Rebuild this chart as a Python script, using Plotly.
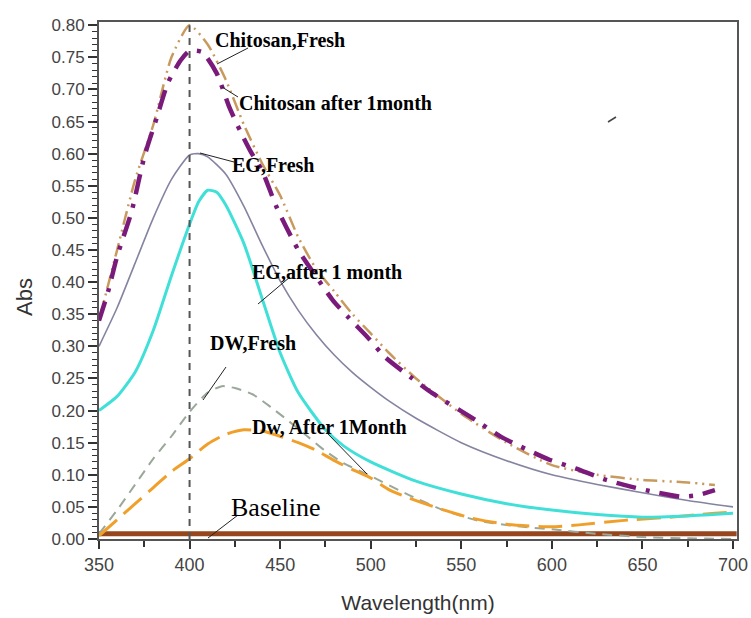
import plotly.graph_objects as go

# ---- data ----
chit_fresh_x = [350, 360, 370, 380, 390, 400, 410, 420, 430, 440, 450, 460, 470, 480, 490, 500, 510, 525, 550, 575, 600, 625, 650, 675, 690]
chit_fresh_y = [0.34, 0.45, 0.56, 0.645, 0.75, 0.80, 0.77, 0.715, 0.645, 0.585, 0.535, 0.47, 0.42, 0.385, 0.35, 0.32, 0.29, 0.25, 0.195, 0.15, 0.115, 0.10, 0.092, 0.088, 0.084]

chit_month_x = [350, 355, 360, 368, 375, 382, 388, 395, 400, 407, 415, 422, 428, 434, 440, 448, 460, 470, 479, 488, 498, 508, 522, 534, 558, 572, 599, 613, 629, 643, 657, 671, 680, 690]
chit_month_y = [0.34, 0.385, 0.44, 0.51, 0.595, 0.657, 0.71, 0.745, 0.76, 0.758, 0.725, 0.672, 0.635, 0.602, 0.574, 0.517, 0.45, 0.408, 0.372, 0.344, 0.315, 0.283, 0.252, 0.227, 0.185, 0.159, 0.123, 0.11, 0.093, 0.082, 0.073, 0.066, 0.068, 0.076]

eg_fresh_x = [350, 360, 370, 380, 390, 400, 405, 410, 420, 430, 440, 450, 460, 470, 480, 490, 500, 510, 525, 550, 575, 600, 625, 650, 675, 700]
eg_fresh_y = [0.30, 0.36, 0.43, 0.50, 0.56, 0.598, 0.60, 0.595, 0.568, 0.518, 0.458, 0.402, 0.356, 0.318, 0.286, 0.259, 0.236, 0.215, 0.188, 0.15, 0.122, 0.10, 0.085, 0.072, 0.06, 0.05]

eg_month_x = [350, 360, 370, 380, 390, 400, 405, 410, 415, 420, 430, 440, 450, 460, 475, 485, 500, 525, 550, 575, 600, 625, 650, 675, 700]
eg_month_y = [0.20, 0.222, 0.26, 0.325, 0.41, 0.49, 0.525, 0.543, 0.54, 0.52, 0.46, 0.375, 0.29, 0.228, 0.17, 0.145, 0.12, 0.09, 0.07, 0.055, 0.045, 0.038, 0.034, 0.036, 0.04]

dw_fresh_x = [350, 360, 370, 380, 390, 400, 410, 418, 425, 435, 445, 455, 465, 475, 485, 500, 520, 540, 560, 580, 600, 625, 650, 675, 700]
dw_fresh_y = [0.008, 0.045, 0.085, 0.125, 0.16, 0.198, 0.228, 0.238, 0.235, 0.225, 0.205, 0.183, 0.16, 0.137, 0.118, 0.098, 0.07, 0.045, 0.028, 0.02, 0.015, 0.008, 0.003, 0.001, 0.0]

dw_month_x = [350, 360, 370, 380, 390, 400, 410, 420, 430, 440, 450, 460, 470, 480, 490, 500, 510, 520, 535, 555, 575, 600, 615, 640, 665, 690, 700]
dw_month_y = [0.005, 0.03, 0.055, 0.08, 0.105, 0.125, 0.148, 0.163, 0.17, 0.168, 0.16, 0.15, 0.138, 0.122, 0.108, 0.095, 0.077, 0.065, 0.05, 0.033, 0.023, 0.019, 0.022, 0.029, 0.034, 0.04, 0.042]

baseline_x = [350, 702]
baseline_y = [0.008, 0.008]

peak_x = [400, 400]
peak_y = [0.0, 0.80]

x_ticks = [350, 400, 450, 500, 550, 600, 650, 700]
y_ticks = [round(0.05 * i, 2) for i in range(17)]

X_RANGE = [350, 702.2]
Y_RANGE = [0, 0.805]

fig = go.Figure()

def add(x, y, color, width, dash="solid"):
    fig.add_trace(go.Scatter(x=x, y=y, mode="lines", showlegend=False,
                             line=dict(color=color, width=width, dash=dash, shape="spline", smoothing=0.6),
                             hoverinfo="skip"))

add(baseline_x, baseline_y, "#96461c", 5)
add(dw_fresh_x, dw_fresh_y, "#9aa89a", 2, "10px,7px")
add(dw_month_x, dw_month_y, "#f0a02a", 3, "24px,9px")
add(eg_fresh_x, eg_fresh_y, "#8484a0", 1.6)
add(eg_month_x, eg_month_y, "#40e0d8", 3)
add(chit_fresh_x, chit_fresh_y, "#c89a5e", 2.5, "14px,5px,2px,5px,2px,5px")
add(chit_month_x, chit_month_y, "#7a1a7a", 4.5, "20px,10px,4px,10px")
fig.add_trace(go.Scatter(x=peak_x, y=peak_y, mode="lines", showlegend=False,
                         line=dict(color="#555555", width=2, dash="7px,6px"), hoverinfo="skip"))

W, H = 751, 618
L, R, T, B = 99, 737, 22, 539

def px2paper(px, py):
    return (px - L) / (R - L), (B - py) / (B - T)

# ---- labels with leader lines ----
labels = [
    ("Chitosan,Fresh", 213, 40, 20, "bold", (248, 48), (217, 64)),
    ("Chitosan after 1month", 237, 103, 20, "bold", (238, 97), (222, 87)),
    ("EG,Fresh", 230, 165, 20, "bold", (234, 162), (200, 153)),
    ("EG,after 1 month", 250, 272, 20, "bold", (290, 277), (258, 304)),
    ("DW,Fresh", 208, 343, 20, "bold", (226, 367), (203, 400)),
    ("Dw, After 1Month", 250, 427, 20, "bold", (327, 433), (367, 474)),
    ("Baseline", 229, 507, 26, "normal", (238, 515), (208, 538)),
]

for text, lx, ly, size, weight, p0, p1 in labels:
    ax_, ay_ = px2paper(lx, ly)
    fig.add_annotation(xref="paper", yref="paper", x=ax_, y=ay_, xanchor="left", yanchor="middle",
                       text=text, showarrow=False,
                       font=dict(family="Liberation Serif", size=size, color="#000000", weight=weight))
    x0, y0 = px2paper(*p0)
    x1, y1 = px2paper(*p1)
    fig.add_shape(type="line", xref="paper", yref="paper", x0=x0, y0=y0, x1=x1, y1=y1,
                  line=dict(color="#222222", width=1))

# small stray mark in the reference
sx0, sy0 = px2paper(608, 122)
sx1, sy1 = px2paper(616, 117)
fig.add_shape(type="line", xref="paper", yref="paper", x0=sx0, y0=sy0, x1=sx1, y1=sy1,
              line=dict(color="#444444", width=1.5))

# y-axis title placed as text
tx, ty = px2paper(24, 297)
fig.add_annotation(xref="paper", yref="paper", x=tx, y=ty, xanchor="center", yanchor="middle",
                   text="Abs", textangle=-90, showarrow=False,
                   font=dict(family="Liberation Sans", size=22, color="#333333"))

fig.update_layout(
    width=W, height=H, autosize=False,
    margin=dict(l=L, r=W - R, t=T, b=H - B, autoexpand=False),
    paper_bgcolor="white", plot_bgcolor="white",
    font=dict(family="Liberation Sans", color="#444444"),
)
fig.update_xaxes(range=X_RANGE, tickvals=x_ticks, ticks="outside", ticklen=8,
                 tickwidth=2, tickcolor="#333", mirror=True,
                 showline=True, linecolor="#555", linewidth=2, showgrid=False, zeroline=False, automargin=False,
                 ticklabeloverflow="allow",
                 tickfont=dict(size=18, color="#444"),
                 minor=dict(ticks="outside", ticklen=6, tickwidth=1.5, tickcolor="#333", dtick=25),
                 title=dict(text="Wavelength(nm)", font=dict(size=21, color="#333"), standoff=22))
fig.update_yaxes(range=Y_RANGE, tickvals=y_ticks, tickformat=".2f", ticks="outside",
                 ticklen=9, tickwidth=2, mirror=True,
                 tickcolor="#333", showline=True, linecolor="#555", linewidth=2, showgrid=False, zeroline=False,
                 automargin=False,
                 tickfont=dict(size=17, color="#444"),
                 minor=dict(ticks="outside", ticklen=5, tickwidth=1.2, tickcolor="#333", dtick=0.01))

fig.write_html("out.html", config={"displayModeBar": False},
               post_script="document.body.style.margin='0';document.body.style.overflow='hidden';")
